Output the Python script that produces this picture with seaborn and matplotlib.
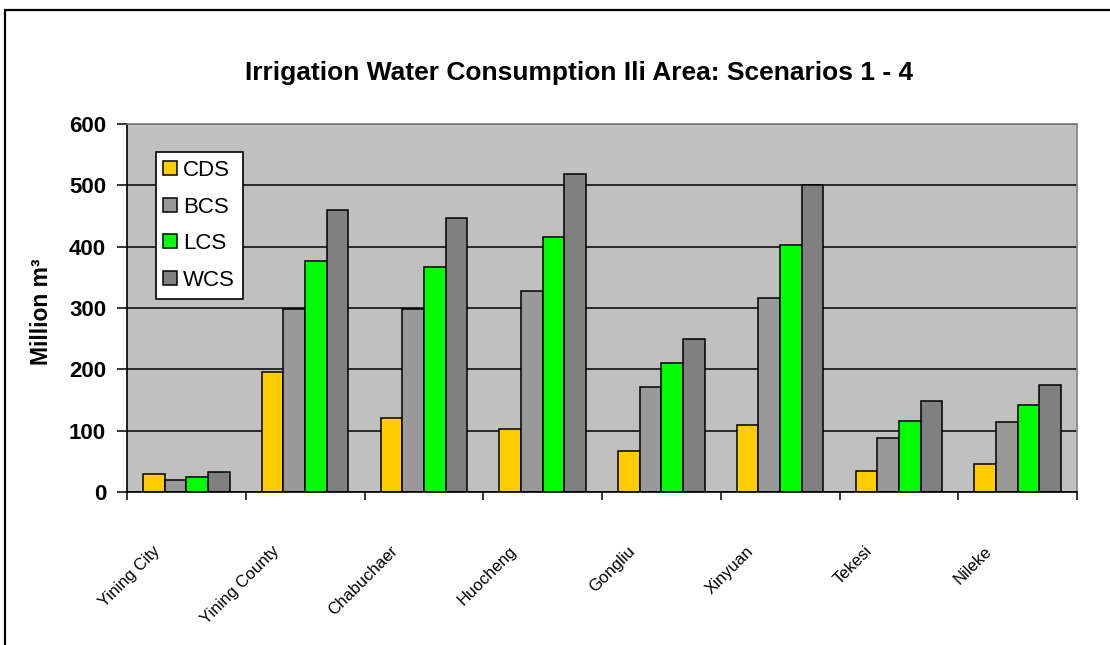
import numpy as np
import pandas as pd
import seaborn as sns
import matplotlib.pyplot as plt
from matplotlib.patches import Rectangle
from matplotlib.transforms import ScaledTranslation

# Irrigation water consumption per region and scenario (million m3)
regions = ["Yining City", "Yining County", "Chabuchaer", "Huocheng",
           "Gongliu", "Xinyuan", "Tekesi", "Nileke"]
scenarios = ["CDS", "BCS", "LCS", "WCS"]
cds = [29, 195, 120, 103, 67, 110, 35, 45]
bcs = [20, 299, 299, 328, 172, 316, 88, 114]
lcs = [25, 377, 367, 416, 211, 403, 116, 142]
wcs = [32, 460, 446, 518, 250, 501, 149, 175]
y_ticks = [0, 100, 200, 300, 400, 500, 600]

colors = ["#FFCC00", "#999999", "#00FF00", "#808080"]

sns.set_theme(style="white")
plt.rcParams["font.family"] = ["Liberation Sans", "DejaVu Sans"]
plt.rcParams["text.color"] = "black"
plt.rcParams["axes.labelcolor"] = "black"
plt.rcParams["xtick.color"] = "black"
plt.rcParams["ytick.color"] = "black"

df = pd.DataFrame({
    "Region": regions * len(scenarios),
    "Scenario": np.repeat(scenarios, len(regions)),
    "Value": cds + bcs + lcs + wcs,
})

W, H = 1110, 645
fig = plt.figure(figsize=(W / 100, H / 100), dpi=100)
ax = fig.add_axes([127 / W, 1 - 492 / H, 950 / W, 368 / H])
ax.set_facecolor("#C0C0C0")
ax.set_axisbelow(True)
ax.yaxis.grid(True, color="black", linewidth=1.1)
ax.xaxis.grid(False)

sns.barplot(data=df, x="Region", y="Value", hue="Scenario",
            order=regions, hue_order=scenarios, palette=colors,
            width=0.73, gap=0, saturation=1, edgecolor="black",
            linewidth=1.1, errorbar=None, ax=ax)

ax.set_xlim(-0.5, len(regions) - 0.5)
ax.set_ylim(0, 600)
ax.set_yticks(y_ticks)
ax.set_yticklabels([str(v) for v in y_ticks], fontsize=16, fontweight="bold")
ax.tick_params(axis="y", direction="out", length=7, width=1.1, color="black", pad=8, left=True)

# category labels at group centres, tick marks at the group boundaries
ax.set_xticks(range(len(regions)))
ax.set_xticklabels(regions, rotation=45, ha="right", va="top",
                   rotation_mode="anchor", fontsize=12)
ax.set_xticks(np.arange(-0.5, len(regions), 1.0), minor=True)
ax.tick_params(axis="x", which="major", length=0, pad=37, bottom=True)
ax.tick_params(axis="x", which="minor", direction="out", length=6,
               width=1.1, color="black", bottom=True)
shift = ScaledTranslation(-0.34, 0, fig.dpi_scale_trans)
for lbl in ax.get_xticklabels():
    lbl.set_transform(lbl.get_transform() + shift)

for side in ["left", "bottom"]:
    ax.spines[side].set_color("black")
    ax.spines[side].set_linewidth(1.2)
for side in ["top", "right"]:
    ax.spines[side].set_color("#808080")
    ax.spines[side].set_linewidth(1.2)

ax.set_xlabel("")
ax.set_ylabel("Million m³", fontsize=16.5, fontweight="bold")
ax.yaxis.set_label_coords(-0.078, 0.49)

handles, labels = ax.get_legend_handles_labels()
leg = ax.legend(handles, labels, loc="upper left", bbox_to_anchor=(0.03, 0.923),
                frameon=True, fancybox=False, edgecolor="black", facecolor="white",
                framealpha=1, fontsize=16, handlelength=0.6, handleheight=0.6,
                handletextpad=0.3, labelspacing=0.7, borderpad=0.35,
                borderaxespad=0)
leg.get_frame().set_linewidth(1.2)

fig.text(0.5216, 1 - 73 / H, "Irrigation Water Consumption Ili Area: Scenarios 1 - 4",
         ha="center", va="center", fontsize=19, fontweight="bold")

# outer chart border
fig.add_artist(Rectangle((5 / W, -0.1), 1.2, 1 - 10 / H + 0.1,
                         transform=fig.transFigure, fill=False,
                         edgecolor="black", linewidth=1.6, clip_on=False))

fig.savefig("out.png", dpi=100)
